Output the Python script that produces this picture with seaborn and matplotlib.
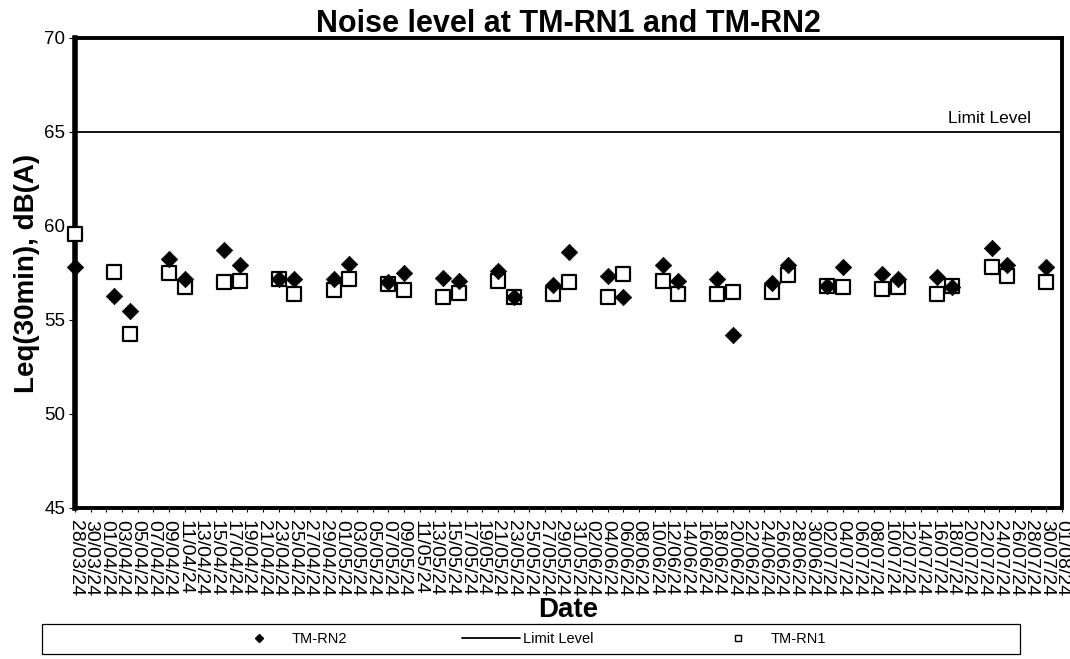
import matplotlib
matplotlib.use("Agg")
import matplotlib.pyplot as plt
import matplotlib.dates as mdates
from matplotlib.lines import Line2D
from matplotlib.patches import Rectangle
import numpy as np
import pandas as pd
import seaborn as sns

# ---- data ----
DATES = ["28/03/24", "02/04/24", "04/04/24", "09/04/24", "11/04/24", "16/04/24",
         "18/04/24", "23/04/24", "25/04/24", "30/04/24", "02/05/24", "07/05/24",
         "09/05/24", "14/05/24", "16/05/24", "21/05/24", "23/05/24", "28/05/24",
         "30/05/24", "04/06/24", "06/06/24", "11/06/24", "13/06/24", "18/06/24",
         "20/06/24", "25/06/24", "27/06/24", "02/07/24", "04/07/24", "09/07/24",
         "11/07/24", "16/07/24", "18/07/24", "23/07/24", "25/07/24", "30/07/24"]
RN2 = [57.8, 56.3, 55.5, 58.25, 57.2, 58.7, 57.9, 57.2, 57.2, 57.2, 58.0, 57.0,
       57.5, 57.25, 57.1, 57.6, 56.2, 56.85, 58.6, 57.35, 56.2, 57.9, 57.1, 57.2,
       54.2, 56.95, 57.9, 56.8, 57.8, 57.45, 57.2, 57.3, 56.75, 58.85, 57.9, 57.8]
RN1 = [59.6, 57.55, 54.25, 57.5, 56.75, 57.0, 57.1, 57.2, 56.4, 56.6, 57.2, 56.9,
       56.6, 56.2, 56.45, 57.1, 56.2, 56.4, 57.0, 56.2, 57.45, 57.1, 56.4, 56.4,
       56.5, 56.5, 57.4, 56.8, 56.75, 56.65, 56.75, 56.4, 56.8, 57.8, 57.35, 57.0]
LIMIT = 65
AXIS_START, AXIS_END = "28/03/24", "01/08/24"
Y_TICKS = [45, 50, 55, 60, 65, 70]

df = pd.DataFrame({"date": pd.to_datetime(DATES, format="%d/%m/%y"),
                   "TM-RN2": RN2, "TM-RN1": RN1})

sns.set_style("white")
plt.rcParams["font.family"] = ["Liberation Sans", "DejaVu Sans"]
plt.rcParams.update({"text.color": "black", "axes.labelcolor": "black",
                     "xtick.color": "black", "ytick.color": "black"})

W, H = 1070, 659
fig = plt.figure(figsize=(W / 100, H / 100), dpi=100)
ax = fig.add_axes([75 / W, 1 - 508 / H, (1062 - 75) / W, (508 - 38) / H])

start = pd.to_datetime(AXIS_START, format="%d/%m/%y")
end = pd.to_datetime(AXIS_END, format="%d/%m/%y")

sns.scatterplot(data=df, x="date", y="TM-RN1", marker="s", s=110, facecolor="white",
                edgecolor="black", linewidth=1.6, ax=ax, clip_on=False, zorder=3)
sns.scatterplot(data=df, x="date", y="TM-RN2", marker="D", s=70, color="black",
                edgecolor="black", linewidth=0.5, ax=ax, clip_on=False, zorder=4)
ax.axhline(LIMIT, color="black", lw=1.3, zorder=2)
ax.text(end - pd.Timedelta(days=4), LIMIT + 0.3, "Limit Level", ha="right",
        va="bottom", fontsize=12.5)

ax.set_xlim(start, end)
ax.set_ylim(45, 70)
ax.set_yticks(Y_TICKS)
ax.set_xticks(pd.date_range(start, end, freq="2D"))
ax.xaxis.set_major_formatter(mdates.DateFormatter("%d/%m/%y"))
ax.tick_params(axis="x", labelrotation=-90, labelsize=14, length=3, width=0.8,
               direction="out", bottom=True, pad=6)
ax.tick_params(axis="y", labelsize=13.5, length=4, width=0.8, direction="out",
               left=True, pad=3)
for lab in ax.get_xticklabels():
    lab.set_va("top")

for side, sp in ax.spines.items():
    sp.set_color("black")
    sp.set_linewidth(2.8)
ax.spines["left"].set_linewidth(4)

ax.set_title("Noise level at TM-RN1 and TM-RN2", fontsize=22, fontweight="bold", pad=4)
ax.set_ylabel("Leq(30min), dB(A)", fontsize=20, fontweight="bold", labelpad=3)
ax.set_xlabel("Date", fontsize=20, fontweight="bold", labelpad=0)

# legend box spans wider than its entries in the reference
fig.patches.append(Rectangle((42 / W, 1 - 654 / H), (1020 - 42) / W, 30 / H,
                             transform=fig.transFigure, fill=False,
                             edgecolor="black", lw=0.9))
handles = [
    Line2D([], [], marker="D", ls="none", color="black", markersize=4),
    Line2D([], [], color="black", lw=1.3),
    Line2D([], [], marker="s", ls="none", markerfacecolor="white",
           markeredgecolor="black", markersize=5),
]
leg = fig.legend(handles, ["TM-RN2", "Limit Level", "TM-RN1"], ncol=3,
                 loc="center", bbox_to_anchor=(528 / W, 1 - 639 / H),
                 fontsize=10.5, frameon=False, columnspacing=7.9,
                 handlelength=4, handletextpad=0.2)

fig.savefig("out.png", dpi=100)
